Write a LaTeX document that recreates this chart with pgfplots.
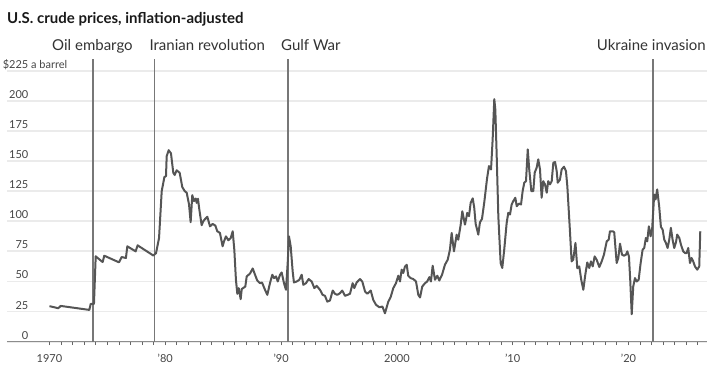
\documentclass[border=0pt]{standalone}
\usepackage{fontspec}
\setmainfont{Lato}
\usepackage{pgfplots}
\pgfplotsset{compat=1.18}
\definecolor{gridc}{HTML}{EBEBEB}
\definecolor{linec}{HTML}{555555}
\definecolor{evc}{HTML}{777777}
\definecolor{axc}{HTML}{8C8C8C}
\definecolor{txt}{HTML}{333333}
\definecolor{tickc}{HTML}{444444}
\pgfplotstableread{
year price
1970.0 29.5
1970.76 27.8
1970.97 29.7
1973.44 26.4
1973.56 31.4
1973.84 31.4
1973.99 70.9
1974.59 66.1
1974.73 71.4
1976.0 65.9
1976.23 70.3
1976.6 69.5
1976.72 79.2
1977.44 75
1977.61 80
1978.96 71.6
1979.2 73.5
1979.46 86.1
1979.69 125
1979.83 132
1979.92 136.7
1980.06 137.5
1980.12 154
1980.29 159
1980.49 156.4
1980.69 140.3
1980.81 138.4
1980.98 142.3
1981.24 140.3
1981.47 128.3
1981.68 125
1981.85 123.7
1982.05 113.9
1982.19 99.2
1982.33 121.7
1982.48 116.7
1982.62 118.9
1982.71 115.3
1982.82 118.7
1982.94 109.7
1983.14 96.7
1983.28 100
1983.45 102
1983.63 103.7
1983.86 95.8
1984.09 97.8
1984.32 96.4
1984.49 91.7
1984.72 90.3
1984.95 79.2
1985.07 83.3
1985.24 87.5
1985.44 84.2
1985.65 86.1
1985.82 91.7
1985.96 76.4
1986.1 51.4
1986.22 39.8
1986.34 44.5
1986.51 35.3
1986.6 43.7
1986.91 45.8
1987.03 54.2
1987.31 56.5
1987.55 60.8
1987.75 55.6
1987.94 50.8
1988.18 48.6
1988.35 49.2
1988.61 43.1
1988.81 38.9
1989.04 48.6
1989.24 55.6
1989.39 52.8
1989.56 54.2
1989.71 50
1989.91 55.6
1990.05 57.5
1990.25 48.6
1990.42 43.1
1990.57 65.3
1990.68 87.5
1990.83 79.2
1991.0 58.3
1991.11 49.2
1991.35 50
1991.57 51.4
1991.78 55.6
1991.92 47.2
1992.15 48.6
1992.38 52
1992.64 50
1992.87 44.5
1993.07 46.4
1993.36 43.1
1993.59 38.9
1993.79 38.1
1993.99 33.3
1994.22 34.2
1994.46 42.5
1994.65 39.8
1994.85 38.9
1995.09 40.3
1995.28 42.5
1995.52 38.1
1995.75 38.9
1995.95 39.8
1996.18 48.6
1996.32 44.5
1996.53 49.2
1996.81 52
1997.01 50
1997.25 41.7
1997.45 39.8
1997.74 42.5
1997.96 34.7
1998.2 30.6
1998.48 28.6
1998.75 29.2
1998.97 23.6
1999.26 33.3
1999.46 37
1999.69 44.5
1999.92 48.6
2000.12 54.8
2000.27 50
2000.41 59.8
2000.55 57
2000.7 62.5
2000.85 63.9
2000.98 54.8
2001.19 52.8
2001.42 52
2001.65 50
2001.85 38.9
2002.0 36.7
2002.19 45.8
2002.43 48.6
2002.62 50
2002.8 53.6
2002.94 50
2003.09 63.1
2003.29 51.4
2003.49 54.8
2003.66 50.8
2003.9 55.6
2004.15 63.9
2004.39 68.1
2004.58 76.4
2004.73 90.3
2004.93 75
2005.16 88.9
2005.3 84.7
2005.51 97.2
2005.65 108.3
2005.88 97.2
2006.08 107
2006.23 104.2
2006.37 115.3
2006.55 119
2006.68 111.2
2006.8 98
2007.03 88.9
2007.17 99
2007.35 102
2007.55 116
2007.78 135
2007.95 145.8
2008.13 143
2008.27 168
2008.41 201.4
2008.5 193
2008.62 154.2
2008.76 104.2
2008.96 65.3
2009.1 61.2
2009.27 76.4
2009.48 98.6
2009.62 107
2009.77 105.6
2009.91 113.9
2010.05 116.7
2010.23 119.5
2010.35 112.5
2010.55 114.7
2010.72 113.9
2010.86 125
2011.0 132
2011.15 133.3
2011.3 159.7
2011.43 143
2011.61 125
2011.78 125
2011.9 140.3
2012.07 144.5
2012.21 151.4
2012.36 143
2012.5 119.5
2012.64 133.3
2012.79 130.6
2012.94 123.7
2013.07 133.3
2013.22 130.6
2013.37 133.3
2013.51 148.6
2013.66 149.2
2013.8 141.7
2013.89 132
2014.08 134.5
2014.23 143
2014.43 145.3
2014.6 141.7
2014.72 129
2014.92 96
2015.09 66.7
2015.23 68.1
2015.42 82
2015.58 61
2015.75 62.5
2015.92 51.4
2016.1 43.1
2016.27 55.6
2016.44 65.8
2016.61 61.2
2016.76 66.7
2016.91 62.5
2017.08 70.8
2017.25 68.1
2017.48 62
2017.69 66.7
2017.88 72.2
2018.12 83.3
2018.29 84.7
2018.4 91.7
2018.64 91.7
2018.77 90.8
2018.98 65.3
2019.12 69.5
2019.27 81.4
2019.44 72.2
2019.61 71.4
2019.78 72.2
2019.9 75
2020.04 70.8
2020.15 51.4
2020.28 22.8
2020.41 45.8
2020.56 52.8
2020.71 50
2020.88 51.4
2021.05 65.3
2021.22 76.4
2021.36 77.8
2021.5 86.1
2021.62 83.3
2021.76 95.8
2021.91 87.5
2022.05 94.5
2022.22 122.2
2022.34 118.1
2022.48 126.4
2022.65 112.5
2022.8 95.3
2022.95 93.1
2023.09 84.7
2023.23 82
2023.38 77.8
2023.52 84.7
2023.66 94.5
2023.81 84.7
2023.95 77.8
2024.1 82.5
2024.21 88.9
2024.39 86.1
2024.53 80.6
2024.73 75
2024.88 73.6
2025.02 73.6
2025.16 77.8
2025.31 65.3
2025.45 69.5
2025.59 66.7
2025.74 62.5
2025.94 59.8
2026.11 62.5
2026.2 91.7
}\pricedata
\begin{document}
\begin{tikzpicture}
\useasboundingbox (-7pt,-28.3pt) rectangle (706pt,341.7pt);
\begin{axis}[
  at={(0pt,0pt)}, anchor=south west,
  scale only axis, width=700pt, height=271pt,
  xmin=1966.33, xmax=2026.78, ymin=0, ymax=225,
  clip=false,
  axis x line*=bottom, axis y line*=left,
  x axis line style={draw=axc, line width=1.5pt, -},
  y axis line style={draw=none},
  xtick={1970,1980,1990,2000,2010,2020},
  xticklabels={1970,’80,’90,2000,’10,’20},
  minor xtick={1970,...,2026},
  tick align=outside,
  major tick length=3.5pt, minor tick length=3.5pt,
  xtick style={draw=black!60, line width=0.8pt},
  ytick={0,25,...,225},
  yticklabels={0,25,50,75,100,125,150,175,200,{\$225\rlap{ a barrel}}},
  ytick style={draw=none},
  ymajorgrids,
  grid style={draw=gridc, line width=1.8pt},
  /pgf/number format/assume math mode=true,
  xticklabel style={font=\fontsize{11}{13}\selectfont, text=tickc, inner sep=0pt, anchor=north, yshift=-9pt},
  yticklabel style={font=\fontsize{11}{13}\selectfont, text=tickc, inner sep=0pt, anchor=base east, xshift=25pt, yshift=2.5pt},
]
\draw[evc, line width=1.2pt] (axis cs:1973.76,0) -- (axis cs:1973.76,234.7);
\draw[evc, line width=1.2pt] (axis cs:1979.05,0) -- (axis cs:1979.05,234.7);
\draw[evc, line width=1.2pt] (axis cs:1990.6,0) -- (axis cs:1990.6,234.7);
\draw[evc, line width=1.2pt] (axis cs:2022.12,0) -- (axis cs:2022.12,234.7);
\addplot[color=linec, line width=2pt, line join=round, mark=none] table[x=year, y=price] {\pricedata};
\node[anchor=base, inner sep=0pt, text=txt, font=\fontsize{15}{17}\selectfont] at (axis cs:1973.71,241.7) {Oil embargo};
\node[anchor=base west, inner sep=0pt, text=txt, font=\fontsize{15}{17}\selectfont] at (axis cs:1978.62,241.7) {Iranian revolution};
\node[anchor=base west, inner sep=0pt, text=txt, font=\fontsize{15}{17}\selectfont] at (axis cs:1989.99,241.7) {Gulf War};
\node[anchor=base east, inner sep=0pt, text=txt, font=\fontsize{15}{17}\selectfont] at (axis cs:2026.69,241.7) {Ukraine invasion};
\node[anchor=base west, inner sep=0pt, text=black!90, font=\bfseries\fontsize{15}{17}\selectfont] at (axis cs:1966.33,263.9) {U.S. crude prices, inflation-adjusted};
\end{axis}
\end{tikzpicture}
\end{document}
